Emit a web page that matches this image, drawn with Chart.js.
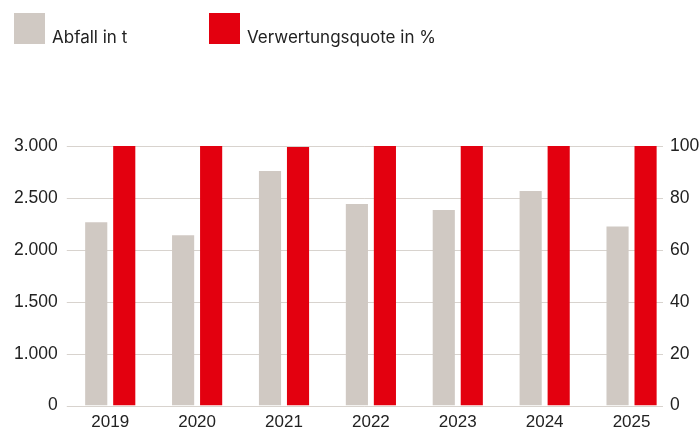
<!DOCTYPE html>
<html lang="de">
<head>
<meta charset="utf-8">
<script src="https://cdn.jsdelivr.net/npm/chart.js@4.4.6/dist/chart.umd.js"></script>
<style>
  html, body { margin: 0; padding: 0; background: #fff; }
  .wrap { position: relative; width: 699px; height: 430px; overflow: hidden; }
  #legend { position: absolute; left: 14px; top: 13px; display: flex; font-family: Inter, 'Liberation Sans', Arial, sans-serif; font-size: 17px; color: #222; }
  .item { display: flex; align-items: flex-end; height: 31px; }
  .swatch { width: 31px; height: 31px; margin-right: 7px; }
  .item span { line-height: 1; position: relative; top: 2px; }
</style>
</head>
<body>
<div class="wrap">
  <div id="legend"></div>
  <canvas id="chart" width="699" height="430"></canvas>
</div>
<script>
const years = ['2019', '2020', '2021', '2022', '2023', '2024', '2025'];
const wasteTonnes = [2120, 1970, 2710, 2330, 2260, 2480, 2070];
const recoveryRate = [100, 100, 99.6, 100, 100, 100, 100];
const leftTickLabels = ['0', '1.000', '1.500', '2.000', '2.500', '3.000'];
const rightTickLabels = ['0', '20', '40', '60', '80', '100'];

const grey = '#d0c9c3';
const red = '#e3000f';
const gridColor = '#d8d3ce';
const textColor = '#222';
const font = 'Liberation Sans, Arial, sans-serif';

const datasets = [
  { label: 'Abfall in t', data: wasteTonnes, backgroundColor: grey, yAxisID: 'left' },
  { label: 'Verwertungsquote in %', data: recoveryRate, backgroundColor: red, yAxisID: 'right' }
];

// html legend, text sits on the bottom edge of the swatch
const legendEl = document.getElementById('legend');
const legendWidths = [195, 230];
datasets.forEach((ds, i) => {
  const item = document.createElement('div');
  item.className = 'item';
  item.style.width = legendWidths[i] + 'px';
  const sw = document.createElement('div');
  sw.className = 'swatch';
  sw.style.background = ds.backgroundColor;
  const txt = document.createElement('span');
  txt.textContent = ds.label;
  item.appendChild(sw);
  item.appendChild(txt);
  legendEl.appendChild(item);
});

// gridlines stop a bit before the right labels, bars run on past them,
// so grid and right-hand labels are drawn here from the scales
const rightEdge = {
  id: 'rightEdge',
  beforeDatasetsDraw(chart) {
    const { ctx, chartArea, scales } = chart;
    const y = scales.left;
    ctx.save();
    ctx.strokeStyle = gridColor;
    ctx.lineWidth = 1;
    y.ticks.forEach((t) => {
      const py = Math.round(y.getPixelForValue(t.value)) + 0.5;
      ctx.beginPath();
      ctx.moveTo(chartArea.left, py);
      ctx.lineTo(chartArea.right - 12, py);
      ctx.stroke();
    });
    ctx.restore();
  },
  afterDraw(chart) {
    const { ctx, chartArea, scales } = chart;
    const r = scales.right;
    ctx.save();
    ctx.fillStyle = textColor;
    ctx.font = '17.5px ' + font;
    ctx.textAlign = 'left';
    ctx.textBaseline = 'middle';
    r.ticks.forEach((t, i) => {
      ctx.fillText(rightTickLabels[i], chartArea.right - 5, r.getPixelForValue(t.value));
    });
    ctx.restore();
  }
};

new Chart(document.getElementById('chart'), {
  type: 'bar',
  data: { labels: years, datasets },
  plugins: [rightEdge],
  options: {
    responsive: false,
    animation: false,
    datasets: { bar: { categoryPercentage: 0.645, barPercentage: 0.79 } },
    layout: { padding: { top: 146, left: 5, right: 24, bottom: -10 } },
    plugins: { legend: { display: false }, tooltip: { enabled: false } },
    scales: {
      x: {
        grid: { display: false, drawTicks: false },
        border: { display: false },
        ticks: { color: textColor, padding: 7, font: { family: font, size: 17 } }
      },
      left: {
        position: 'left',
        min: 0,
        max: 3000,
        grid: { display: false, drawTicks: false },
        border: { display: false },
        ticks: {
          stepSize: 600,
          padding: 9,
          color: textColor,
          font: { family: font, size: 17.5 },
          callback: (v, i) => leftTickLabels[i]
        }
      },
      right: {
        position: 'right',
        display: false,
        min: 0,
        max: 100,
        ticks: { stepSize: 20 }
      }
    }
  }
});
</script>
</body>
</html>
